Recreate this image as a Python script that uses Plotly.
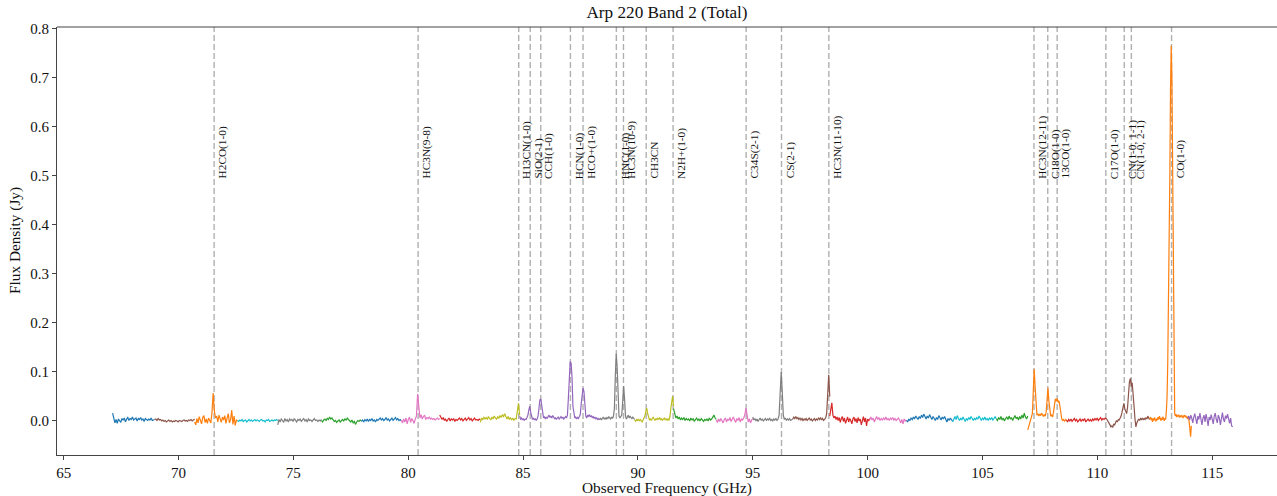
import numpy as np
import plotly.graph_objects as go

# ---------------- data ----------------
# spectral segments: start/end observed frequency (GHz), color, flux values (Jy)
seg_starts = [67.13, 68.96, 70.70, 72.57, 74.32, 76.22, 77.96, 79.70, 81.37, 83.14,
              84.85, 88.33, 89.86, 91.55, 93.41, 95.00, 96.74, 98.35, 100.09, 101.69,
              103.70, 105.60, 106.97, 108.65, 110.39, 112.28, 113.93]
seg_ends = [68.96, 70.70, 72.57, 74.32, 76.22, 77.96, 79.70, 81.37, 83.14, 84.85,
            88.33, 89.86, 91.55, 93.41, 95.00, 96.74, 98.35, 100.09, 101.69, 103.70,
            105.60, 106.97, 108.65, 110.39, 112.28, 114.09, 115.89]
seg_colors = ["#1f77b4", "#8c564b", "#ff7f0e", "#17becf", "#7f7f7f", "#2ca02c", "#1f77b4",
              "#e377c2", "#d62728", "#bcbd22", "#9467bd", "#7f7f7f", "#bcbd22", "#2ca02c",
              "#e377c2", "#7f7f7f", "#8c564b", "#d62728", "#e377c2", "#1f77b4", "#17becf",
              "#2ca02c", "#ff7f0e", "#d62728", "#8c564b", "#ff7f0e", "#9467bd"]

flux_01 = [0.016, 0.002, -0.004, 0.003, -0.005, 0.004, 0.001, -0.003, 0.005, 0.002, 0.006, -0.002,
           0.004, 0.007, 0.001, 0.005, 0.003, 0.008, 0.002, 0.004, 0.006, 0.000, 0.005, 0.003,
           0.007, 0.002, 0.004, -0.001, 0.005, 0.003, 0.001, 0.004, 0.002, 0.006, 0.001, 0.002, 0.003]
flux_02 = [0.003, 0.004, 0.001, 0.005, 0.002, 0.003, 0.000, 0.002, -0.001, 0.001, -0.002, 0.000,
           0.002, -0.001, 0.001, -0.002, 0.000, -0.001, 0.001, 0.000, -0.002, 0.001, 0.000, -0.001,
           0.001, 0.002, 0.000, 0.001, -0.001, 0.002, 0.001, 0.003, 0.000, 0.002, 0.004]
flux_03 = [-0.002, -0.008, 0.005, -0.004, 0.009, 0.002, -0.006, 0.007, 0.011, -0.003, 0.004, -0.005,
           0.006, 0.001, -0.004, 0.018, 0.057, 0.021, 0.006, 0.010, -0.002, 0.012, 0.004, -0.003,
           0.008, 0.002, 0.011, -0.005, 0.006, 0.015, -0.004, 0.003, 0.022, -0.007, 0.010, -0.009,
           0.002, 0.000]
flux_04 = [0.001, -0.001, 0.002, 0.000, 0.003, -0.001, 0.001, 0.002, -0.002, 0.001, 0.003, 0.000,
           0.002, -0.001, 0.001, 0.003, 0.000, 0.002, 0.001, -0.001, 0.002, 0.003, 0.000, 0.001,
           -0.002, 0.002, 0.001, 0.003, -0.001, 0.001, 0.002, 0.000, 0.002, 0.001, 0.003, 0.001]
flux_05 = [-0.008, 0.003, -0.002, 0.004, 0.001, -0.003, 0.005, 0.000, 0.003, -0.002, 0.004, 0.001,
           0.003, -0.001, 0.005, 0.002, -0.002, 0.003, 0.001, 0.004, -0.001, 0.002, 0.005, 0.000,
           0.003, -0.002, 0.004, 0.001, 0.002, -0.001, 0.003, 0.005, 0.001, 0.002, -0.001, 0.002,
           0.000, 0.003]
flux_06 = [0.001, -0.002, 0.002, 0.004, 0.001, 0.005, 0.003, 0.008, 0.004, 0.006, 0.002, -0.001,
           0.001, -0.003, 0.000, 0.002, -0.002, 0.001, 0.003, 0.000, 0.004, 0.002, 0.006, 0.003,
           0.001, -0.002, 0.002, -0.004, -0.001, -0.007, -0.002, 0.001, -0.001, 0.002, 0.000]
flux_07 = [-0.001, 0.002, -0.002, 0.003, 0.000, 0.004, -0.001, 0.003, 0.001, 0.005, 0.000, 0.002,
           -0.002, 0.003, 0.001, 0.004, 0.006, 0.002, 0.005, 0.001, 0.003, 0.007, 0.002, 0.004,
           0.000, 0.003, 0.006, 0.001, 0.004, 0.007, 0.002, 0.005, 0.001, 0.003, 0.000]
flux_08 = [0.002, -0.004, 0.004, -0.002, 0.006, -0.006, 0.003, 0.008, -0.003, 0.005, 0.001, -0.005,
           0.004, 0.010, 0.055, 0.022, 0.006, 0.013, 0.004, 0.009, 0.012, 0.003, 0.007, 0.005,
           0.008, 0.004, 0.006, 0.003, 0.005, 0.002, 0.004, 0.006, 0.003, 0.005]
flux_09 = [0.012, 0.006, 0.003, 0.007, 0.001, 0.004, -0.001, 0.003, 0.006, 0.000, 0.004, 0.002,
           0.005, -0.001, 0.003, 0.001, 0.004, 0.006, 0.002, 0.005, 0.000, 0.003, 0.006, 0.001,
           0.004, 0.007, 0.002, 0.005, 0.000, 0.004, 0.006, 0.002, 0.003, 0.001, 0.004, 0.002]
flux_10 = [-0.003, 0.006, 0.002, 0.008, 0.004, 0.007, 0.003, 0.009, 0.005, 0.002, 0.008, 0.004,
           0.010, 0.006, 0.003, 0.009, 0.005, 0.011, 0.007, 0.013, 0.008, 0.015, 0.010, 0.004,
           0.009, 0.003, 0.007, 0.002, 0.006, 0.001, 0.005, 0.004, 0.020, 0.036, 0.012]
flux_11 = [0.010, 0.004, 0.006, 0.002, 0.005, 0.001, 0.004, 0.003, 0.007, 0.012, 0.022, 0.030,
           0.018, 0.008, 0.003, 0.006, 0.002, 0.005, 0.001, 0.004, 0.010, 0.025, 0.043, 0.045,
           0.028, 0.012, 0.006, 0.009, 0.004, 0.008, 0.005, 0.009, 0.012, 0.007, 0.010, 0.006,
           0.011, 0.008, 0.004, 0.007, 0.003, 0.006, 0.008, 0.004, 0.007, 0.009, 0.005, 0.008,
           0.004, 0.006, 0.009, 0.006, 0.012, 0.045, 0.100, 0.121, 0.118, 0.090, 0.030, 0.010,
           0.006, 0.008, 0.004, 0.007, 0.005, 0.009, 0.013, 0.035, 0.058, 0.067, 0.060, 0.028,
           0.010, 0.006, 0.012, 0.009, 0.013, 0.008, 0.011, 0.007, 0.009, 0.005, 0.008, 0.004,
           0.006, 0.003, 0.005, 0.002]
flux_12 = [0.003, 0.006, 0.002, 0.005, 0.008, 0.004, 0.006, 0.003, 0.007, 0.005, 0.009, 0.006,
           0.004, 0.008, 0.005, 0.010, 0.025, 0.090, 0.137, 0.110, 0.040, 0.010, 0.006, 0.009,
           0.012, 0.040, 0.071, 0.045, 0.010, 0.004, 0.008, 0.012, 0.006, 0.010, 0.007, 0.004,
           0.008, 0.005, 0.003]
flux_13 = [0.002, -0.001, 0.003, 0.001, 0.004, 0.000, 0.003, 0.001, -0.002, 0.002, 0.005, 0.010,
           0.020, 0.026, 0.015, 0.006, 0.002, 0.004, 0.001, 0.005, 0.008, 0.004, 0.001, 0.005,
           0.002, 0.006, 0.003, 0.007, 0.002, 0.005, 0.001, 0.004, 0.006, 0.002, 0.005, 0.001,
           0.004, 0.002, 0.008, 0.025, 0.045, 0.051, 0.030]
flux_14 = [0.025, 0.012, 0.006, 0.010, 0.004, 0.008, 0.002, 0.006, 0.003, 0.007, 0.001, 0.005,
           0.002, 0.004, 0.000, 0.006, 0.002, 0.005, -0.001, 0.003, 0.006, 0.001, 0.004, 0.000,
           0.005, 0.002, -0.001, 0.003, 0.001, 0.004, 0.000, 0.006, 0.002, 0.004, 0.009, 0.012,
           0.006, 0.003]
flux_15 = [0.002, -0.003, 0.004, -0.001, 0.005, 0.001, -0.004, 0.003, 0.006, -0.002, 0.004, 0.001,
           0.007, -0.001, 0.003, 0.008, 0.002, -0.003, 0.005, 0.001, 0.007, -0.002, 0.004, 0.002,
           0.006, 0.012, 0.026, 0.015, -0.002, 0.004, -0.004, 0.002, 0.005]
flux_16 = [0.008, 0.002, 0.005, 0.000, 0.004, -0.001, 0.003, 0.006, 0.001, 0.004, 0.000, 0.003,
           0.005, 0.001, 0.004, 0.002, 0.006, 0.001, 0.003, 0.000, 0.004, 0.002, 0.005, 0.001,
           0.004, 0.012, 0.055, 0.100, 0.060, 0.012, 0.003, 0.006, 0.001, 0.004, 0.002, 0.005,
           0.001, 0.003, 0.004]
flux_17 = [0.004, 0.008, 0.005, 0.009, 0.004, 0.007, 0.003, 0.006, 0.002, 0.005, 0.001, 0.004,
           0.002, 0.005, 0.001, 0.003, 0.006, 0.002, 0.004, 0.000, 0.003, 0.005, 0.001, 0.004,
           0.002, 0.006, 0.003, 0.007, 0.002, 0.005, 0.001, 0.004, 0.006, 0.015, 0.060, 0.094,
           0.050]
flux_18 = [0.010, 0.020, 0.037, 0.012, 0.006, 0.010, 0.003, 0.008, 0.001, 0.007, -0.003, 0.005,
           0.009, -0.001, 0.006, -0.005, 0.003, 0.008, -0.002, 0.005, 0.001, -0.006, 0.004, 0.008,
           -0.001, 0.005, -0.004, 0.007, 0.000, 0.004, -0.008, 0.003, 0.009, -0.002, 0.006, -0.010,
           0.004, 0.000, 0.005]
flux_19 = [0.003, 0.008, 0.002, 0.006, -0.002, 0.005, 0.009, 0.003, 0.007, 0.001, 0.005, 0.002,
           0.006, 0.003, 0.008, 0.002, 0.005, 0.001, 0.006, 0.003, 0.007, 0.002, 0.005, 0.001,
           0.004, 0.006, 0.002, -0.004, 0.003, -0.006, 0.004, 0.000, 0.002]
flux_20 = [0.001, -0.002, 0.004, 0.001, 0.006, 0.003, 0.008, 0.004, 0.010, 0.006, 0.003, 0.009,
           0.005, 0.012, 0.007, 0.014, 0.008, 0.004, 0.010, 0.006, 0.013, 0.007, 0.003, 0.009,
           0.004, 0.001, 0.007, 0.003, 0.011, 0.005, 0.002, 0.008, 0.004, 0.009, 0.003, -0.002,
           0.005, 0.001, 0.006, 0.002, -0.001]
flux_21 = [-0.002, 0.004, 0.009, 0.003, 0.011, 0.005, 0.001, 0.006, 0.002, 0.008, 0.003, -0.001,
           0.005, 0.002, 0.007, 0.003, 0.009, 0.004, 0.001, 0.006, 0.002, 0.007, 0.004, 0.010,
           0.005, 0.001, 0.006, 0.003, 0.008, 0.002, 0.005, 0.001, 0.006, 0.003, 0.007, 0.002,
           0.005, 0.009, 0.004]
flux_22 = [0.004, 0.001, 0.007, 0.003, 0.009, 0.002, 0.006, 0.000, 0.005, 0.008, 0.003, 0.010,
           0.004, 0.007, 0.001, 0.006, 0.011, 0.005, 0.008, 0.002, 0.009, 0.004, 0.012, 0.006,
           0.016, 0.008, 0.004, 0.010]
flux_23 = [-0.018, -0.012, -0.004, 0.002, 0.006, 0.015, 0.060, 0.106, 0.070, 0.025, 0.012, 0.015,
           0.010, 0.014, 0.011, 0.016, 0.012, 0.009, 0.013, 0.010, 0.018, 0.045, 0.067, 0.040,
           0.015, 0.010, 0.012, 0.008, 0.018, 0.035, 0.045, 0.040, 0.046, 0.038, 0.041, 0.030,
           0.015, 0.004, 0.001, 0.003, 0.000, 0.002, 0.004]
flux_24 = [0.002, -0.002, 0.003, 0.000, 0.004, -0.001, 0.002, 0.005, 0.000, 0.003, -0.002, 0.002,
           0.004, -0.001, 0.003, 0.001, 0.005, -0.002, 0.002, 0.004, 0.000, 0.003, -0.001, 0.004,
           0.001, 0.005, 0.002, 0.006, 0.001, 0.004, 0.007, 0.002, 0.005, 0.003, 0.006, 0.004]
flux_25 = [0.005, 0.002, 0.000, -0.004, -0.008, -0.012, -0.010, -0.013, -0.006, -0.008, -0.002,
           0.001, -0.002, 0.003, 0.002, 0.006, 0.010, 0.018, 0.030, 0.036, 0.025, 0.018, 0.015,
           0.028, 0.055, 0.080, 0.087, 0.070, 0.078, 0.060, 0.030, 0.005, -0.012, -0.004, 0.002,
           0.004, 0.001, 0.005, 0.003, 0.006, 0.002, 0.005, 0.003, 0.007, 0.004, 0.010, 0.005,
           0.003]
flux_26 = [0.004, 0.008, 0.002, 0.006, -0.002, 0.005, 0.001, 0.007, 0.003, -0.001, 0.005, 0.002,
           0.008, 0.003, 0.010, 0.004, 0.001, 0.006, 0.002, 0.009, 0.004, 0.000, 0.006, 0.003,
           0.020, 0.050, 0.120, 0.220, 0.360, 0.500, 0.680, 0.765, 0.700, 0.500, 0.250, 0.060,
           0.015, 0.010, 0.014, 0.008, 0.012, 0.009, 0.013, 0.007, 0.011, 0.008, 0.012, 0.009,
           0.006, 0.010, 0.012, 0.008, 0.011, 0.006, 0.009, 0.004, 0.007, -0.004, -0.015, -0.032,
           -0.010]
flux_27 = [0.005, 0.010, 0.002, 0.012, 0.006, -0.004, 0.008, 0.015, 0.004, -0.006, 0.010, 0.003,
           0.016, 0.005, -0.008, 0.006, 0.012, -0.002, 0.014, 0.004, -0.010, 0.008, 0.002, 0.013,
           0.005, -0.006, 0.010, 0.016, 0.003, -0.004, 0.012, 0.006, -0.008, 0.009, 0.017, 0.004,
           -0.002, 0.011, 0.005, 0.014, 0.002, -0.005, 0.006, -0.010, -0.012]

seg_fluxes = [flux_01, flux_02, flux_03, flux_04, flux_05, flux_06, flux_07, flux_08, flux_09,
              flux_10, flux_11, flux_12, flux_13, flux_14, flux_15, flux_16, flux_17, flux_18,
              flux_19, flux_20, flux_21, flux_22, flux_23, flux_24, flux_25, flux_26, flux_27]

# identified lines (observed frequency, GHz)
line_names = ["H2CO(1-0)", "HC3N(9-8)", "H13CN(1-0)", "SiO(2-1)", "CCH(1-0)", "HCN(1-0)",
              "HCO+(1-0)", "HNC(1-0)", "HC3N(10-9)", "CH3CN", "N2H+(1-0)", "C34S(2-1)",
              "CS(2-1)", "HC3N(11-10)", "HC3N(12-11)", "C18O(1-0)", "13CO(1-0)", "C17O(1-0)",
              "CN(1-0, 1-1)", "CN(1-0, 2-1)", "CO(1-0)"]
line_freqs = [71.55, 80.43, 84.81, 85.31, 85.77, 87.06, 87.61, 89.06, 89.37, 90.36, 91.53,
              94.71, 96.25, 98.31, 107.24, 107.84, 108.25, 110.37, 111.17, 111.48, 113.23]

x_ticks = [65, 70, 75, 80, 85, 90, 95, 100, 105, 110, 115]
y_ticks = [0.0, 0.1, 0.2, 0.3, 0.4, 0.5, 0.6, 0.7, 0.8]

# ---------------- figure ----------------
FONT = "Liberation Serif"
fig = go.Figure()

for s, e, c, f in zip(seg_starts, seg_ends, seg_colors, seg_fluxes):
    fig.add_trace(go.Scatter(x=np.linspace(s, e, len(f)), y=f, mode="lines",
                             line=dict(color=c, width=1.2), showlegend=False,
                             hoverinfo="x+y"))

shapes = []
annotations = []
for name, fr in zip(line_names, line_freqs):
    shapes.append(dict(type="line", xref="x", yref="paper", x0=fr, x1=fr, y0=0, y1=1,
                       line=dict(color="rgba(150,150,150,0.75)", width=1.4, dash="6px,3px"),
                       layer="below"))
    annotations.append(dict(x=fr, y=0.5, xref="x", yref="y", text=name, textangle=-90,
                            showarrow=False, xanchor="left", yanchor="bottom", yshift=-5,
                            font=dict(family=FONT, size=11.3, color="#111")))

# top spine
shapes.append(dict(type="line", xref="paper", yref="paper", x0=0, x1=1, y0=1, y1=1,
                   line=dict(color="#444", width=1)))

annotations.append(dict(text="Observed Frequency (GHz)", xref="paper", yref="paper",
                        x=0.5, y=0, yanchor="top", yshift=-22, showarrow=False,
                        font=dict(family=FONT, size=15.3, color="#111")))
annotations.append(dict(text="Flux Density (Jy)", xref="paper", yref="paper",
                        x=0, y=0.5, xanchor="right", xshift=-31, textangle=-90,
                        showarrow=False, font=dict(family=FONT, size=15.3, color="#111")))

fig.update_layout(
    width=1277, height=496,
    margin=dict(l=57, r=0, t=27, b=41),
    paper_bgcolor="white", plot_bgcolor="white",
    title=dict(text="Arp 220 Band 2 (Total)", x=0.5, xref="paper", xanchor="center",
               y=1 - 12 / 496, yref="container", yanchor="middle",
               font=dict(family=FONT, size=17.2, color="#111")),
    shapes=shapes, annotations=annotations,
    xaxis=dict(range=[64.71, 117.82], tickvals=x_ticks, ticks="outside", ticklen=4,
               tickcolor="#444", showline=True, linecolor="#444", linewidth=1,
               showgrid=False, zeroline=False,
               tickfont=dict(family=FONT, size=15, color="#111")),
    yaxis=dict(range=[-0.0694, 0.8035], tickvals=y_ticks, tickformat=".1f", ticks="outside",
               ticklen=4, tickcolor="#444", showline=True, linecolor="#444", linewidth=1,
               showgrid=False, zeroline=False,
               tickfont=dict(family=FONT, size=15, color="#111")),
)

fig.write_html("out.html")
